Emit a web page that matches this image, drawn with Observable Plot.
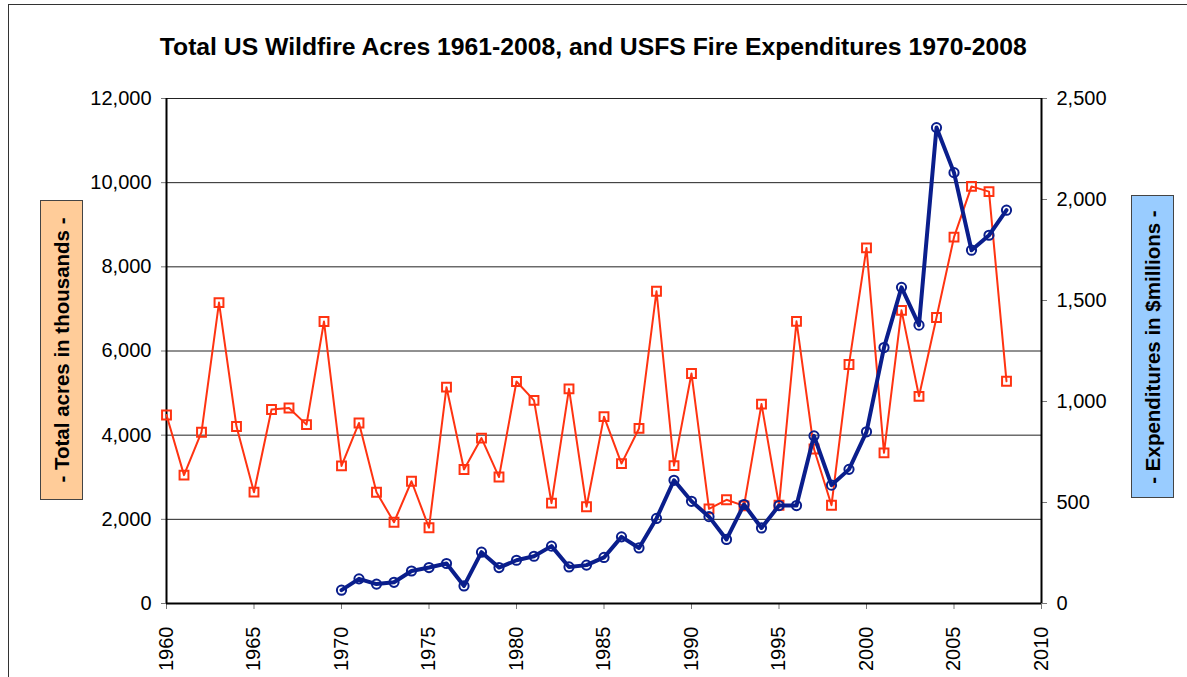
<!DOCTYPE html>
<html>
<head>
<meta charset="utf-8">
<script src="https://cdn.jsdelivr.net/npm/d3@7"></script>
<script src="https://cdn.jsdelivr.net/npm/@observablehq/plot@0.6"></script>
<style>
  html, body { margin: 0; padding: 0; background: #fff; }
  body { width: 1187px; height: 677px; position: relative; overflow: hidden; font-family: "Liberation Sans", Arial, sans-serif; }
  #frame { position: absolute; left: 8px; top: 4px; width: 1200px; height: 700px; border-left: 1px solid #333; border-top: 1px solid #333; }
  #chart { position: absolute; left: 0; top: 0; }
  #title { position: absolute; left: 0; top: 34px; width: 1187px; text-align: center; }
  #title span { display: inline-block; font-weight: bold; font-size: 23px; line-height: 26px; color: #000; white-space: nowrap; transform: scaleX(1.075); }
  .ybox { position: absolute; box-sizing: border-box; border: 1px solid #444; width: 43px; }
  .ybox span { position: absolute; left: 50%; top: 50%; transform: translate(-50%, -50%) rotate(-90deg); white-space: nowrap; font-weight: bold; font-size: 20.5px; color: #000; }
  #lbox { left: 40px; top: 200px; height: 300px; background: #FFCC99; }
  #rbox { left: 1131px; top: 195px; height: 303px; background: #99CCFF; }
</style>
</head>
<body>
<div id="frame"></div>
<div id="chart"></div>
<div id="title"><span>Total US Wildfire Acres 1961-2008, and USFS Fire Expenditures 1970-2008</span></div>
<div class="ybox" id="lbox"><span>- Total acres in thousands -</span></div>
<div class="ybox" id="rbox"><span>- Expenditures in $millions -</span></div>
<script>
// Total US wildfire acres (thousands), 1960-2008
const acreYears = [1960,1961,1962,1963,1964,1965,1966,1967,1968,1969,
  1970,1971,1972,1973,1974,1975,1976,1977,1978,1979,
  1980,1981,1982,1983,1984,1985,1986,1987,1988,1989,
  1990,1991,1992,1993,1994,1995,1996,1997,1998,1999,
  2000,2001,2002,2003,2004,2005,2006,2007,2008];
const acres = [4480,3050,4070,7150,4205,2645,4610,4645,4250,6700,
  3270,4290,2643,1931,2905,1800,5140,3185,3930,3005,
  5275,4828,2385,5100,2300,4440,3325,4160,7420,3275,
  5465,2250,2465,2320,4738,2335,6705,3670,2335,5680,
  8450,3580,6966,4923,6795,8705,9911,9788,5280];

// USFS fire expenditures ($ millions), 1970-2008
const expYears = [1970,1971,1972,1973,1974,1975,1976,1977,1978,1979,
  1980,1981,1982,1983,1984,1985,1986,1987,1988,1989,
  1990,1991,1992,1993,1994,1995,1996,1997,1998,1999,
  2000,2001,2002,2003,2004,2005,2006,2007,2008];
const expenditures = [66,122,96,105,161,178,198,87,254,178,
  214,234,284,181,190,228,330,275,421,610,
  506,430,317,490,374,485,485,830,586,664,
  850,1267,1565,1378,2356,2133,1749,1823,1947];

// Tick labels
const xTicks = [1960,1965,1970,1975,1980,1985,1990,1995,2000,2005,2010];
const leftTicks = [0,2000,4000,6000,8000,10000,12000];
const rightTicks = [0,500,1000,1500,2000,2500];

const leftMax = 12000, rightMax = 2500;
const ratio = leftMax / rightMax;

const acresData = acreYears.map((yr, i) => ({year: yr, value: acres[i]}));
const expData = expYears.map((yr, i) => ({year: yr, value: expenditures[i] * ratio}));

const red = "#ff3311";
const navy = "#0a1e8c";
const fmt = d3.format(",");

const chart = Plot.plot({
  width: 1187,
  height: 677,
  marginLeft: 166,
  marginRight: 146,
  marginTop: 98,
  marginBottom: 74,
  style: {fontFamily: "'Liberation Sans', Arial, sans-serif", fontSize: "20px", background: "transparent", color: "#000"},
  x: {domain: [1960, 2010]},
  y: {domain: [0, leftMax]},
  marks: [
    Plot.gridY(leftTicks, {stroke: "#222", strokeOpacity: 1, strokeWidth: 1}),
    Plot.axisY({anchor: "left", ticks: leftTicks, tickFormat: fmt, tickSize: 5, tickPadding: 10, label: null, stroke: "#777"}),
    Plot.axisY({anchor: "right", ticks: rightTicks.map(v => v * ratio), tickFormat: d => fmt(Math.round(d / ratio)), tickSize: 5, tickPadding: 10, label: null, stroke: "#777"}),
    Plot.axisX({ticks: xTicks, tickFormat: d => String(d), tickRotate: -90, tickSize: 6, tickPadding: 17, label: null, stroke: "#777"}),
    Plot.ruleX([1960, 2010], {stroke: "#000", strokeWidth: 2}),
    Plot.ruleY([0], {stroke: "#000", strokeWidth: 2}),
    Plot.line(acresData, {x: "year", y: "value", stroke: red, strokeWidth: 2}),
    Plot.dot(acresData, {x: "year", y: "value", symbol: "square", r: 5, stroke: red, strokeWidth: 2, fill: "none"}),
    Plot.line(expData, {x: "year", y: "value", stroke: navy, strokeWidth: 4}),
    Plot.dot(expData, {x: "year", y: "value", symbol: "circle", r: 4.6, stroke: navy, strokeWidth: 2, fill: "none"})
  ]
});
document.getElementById("chart").appendChild(chart);
</script>
</body>
</html>
